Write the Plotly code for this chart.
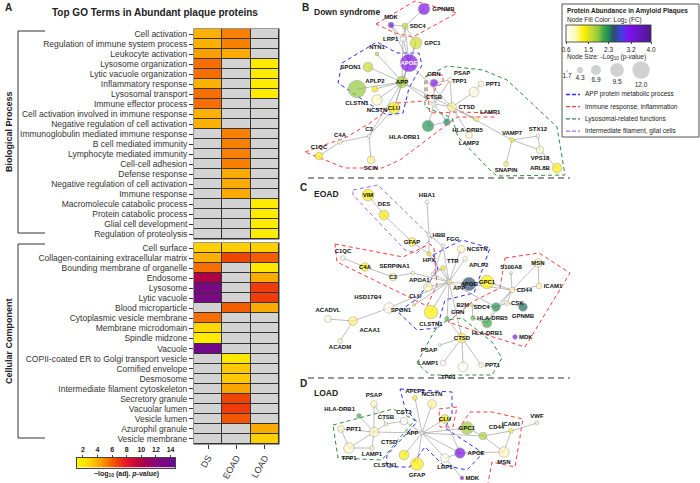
import numpy as np
import plotly.graph_objects as go

W, H = 700, 483
FONT = "Liberation Sans, Arial, sans-serif"
DARK = "#222222"
CELL_GRAY = "#D3D3D3"
EDGE = "#A0A0A0"
HULL = {"app": "#2F2FFF", "imm": "#FF3C3C", "lys": "#2E8B3A", "glia": "#9B6FD8"}

# ---------------------------------------------------------------- panel A data
GROUPS = ["DS", "EOAD", "LOAD"]

BP_TERMS = [
    "Cell activation", "Regulation of immune system process", "Leukocyte activation",
    "Lysosome organization", "Lytic vacuole organization", "Inflammatory response",
    "Lysosomal transport", "Immune effector process",
    "Cell activation involved in immune response", "Negative regulation of cell activation",
    "Immunoglobulin mediated immune response", "B cell mediated immunity",
    "Lymphocyte mediated immunity", "Cell-cell adhesion", "Defense response",
    "Negative regulation of cell activation", "Immune response",
    "Macromolecule catabolic process", "Protein catabolic process",
    "Glial cell development", "Regulation of proteolysis",
]
BP_DS = [4.0, 4.0, 4.5, 5.6, 5.6, 4.0, 5.6, 5.6, 4.0, 4.0,
         None, None, None, None, None, None, None, None, None, None, None]
BP_EOAD = [5.2, 5.2, 4.2, None, None, None, None, None, None, None,
           5.2, 5.2, 5.2, 5.2, 4.2, 4.2, 4.2, None, None, None, None]
BP_LOAD = [None, None, None, 1.8, 1.8, 1.8, 1.8, None, None, None,
           None, None, None, None, None, None, None, 1.8, 1.8, 1.8, 1.8]

CC_TERMS = [
    "Cell surface", "Collagen-containing extracellular matrix", "Bounding membrane of organelle",
    "Endosome", "Lysosome", "Lytic vacuole", "Blood microparticle",
    "Cytoplasmic vesicle membrane", "Membrane microdomain", "Spindle midzone", "Vacuole",
    "COPII-coated ER to Golgi transport vesicle", "Cornified envelope", "Desmosome",
    "Intermediate filament cytoskeleton", "Secretory granule", "Vacuolar lumen",
    "Vesicle lumen", "Azurophil granule", "Vesicle membrane",
]
CC_DS = [3.0, 4.0, 5.6, 10.0, 13.0, 13.0, None, 5.6, 2.8, 1.9, 13.8,
         None, None, None, None, None, None, None, None, None]
CC_EOAD = [3.0, 6.6, None, None, None, None, 6.0, None, None, None, None,
           2.0, 3.2, 3.2, 4.3, 6.6, 6.9, 6.2, None, None]
CC_LOAD = [3.0, 6.0, 2.0, 4.2, 6.9, 6.9, 4.2, None, None, None, None,
           None, None, None, None, None, None, None, 4.2, 3.0]

HEAT_MIN, HEAT_MAX = 1.2, 14.6
HEAT_TICKS = [2, 4, 6, 8, 10, 12, 14]
HEAT_SCALE = [
    [0.0, "#FFF500"], [0.097, "#FFE000"], [0.172, "#FFC000"], [0.246, "#F9A000"],
    [0.321, "#F57200"], [0.396, "#F04A00"], [0.507, "#E8142A"], [0.657, "#B00045"],
    [0.806, "#85087A"], [1.0, "#650A8E"],
]

# ---------------------------------------------------------------- network data
# node values: log2 fold change and -log10 p-value
B_GENES = ["GPNMB", "MDK", "SDC4", "LRP1", "GPC1", "NTN1", "APOE", "SPON1", "APP", "APLP2",
           "CLSTN1", "NCSTN", "CLU", "GRN", "PSAP", "PPT1", "TPP1", "CTSB", "CTSD", "LAMP1",
           "HLA-DRB1", "HLA-DRB5", "LAMP2", "C3", "C4A", "C1QC", "SCIN", "VAMP7", "STX12",
           "VPS18", "SNAPIN", "ARL8B"]
B_LFC = [3.2, 3.3, 1.6, 0.7, 1.55, 1.65, 3.1, 1.6, 1.8, 1.3,
         1.85, 0.9, 1.35, 3.1, 0.65, 0.85, 0.8, 0.65, 1.05, 1.15,
         2.25, 2.3, 0.9, 0.65, 1.0, 1.3, 1.1, 1.25, 0.65,
         0.9, 1.15, 1.35]
B_NLP = [8.0, 4.0, 4.0, 4.0, 8.0, 2.7, 12.0, 6.7, 8.0, 4.0,
         12.0, 7.3, 8.0, 5.3, 3.3, 4.0, 6.7, 3.3, 6.0, 3.3,
         8.0, 4.7, 4.7, 2.7, 3.3, 5.3, 5.3, 3.3, 2.7,
         5.3, 3.3, 6.7]
B_EDGES = [
    ("GPNMB", "SDC4"), ("MDK", "SDC4"), ("MDK", "LRP1"), ("MDK", "APOE"), ("SDC4", "LRP1"),
    ("SDC4", "GPC1"), ("SDC4", "APOE"), ("LRP1", "APOE"), ("LRP1", "APP"), ("GPC1", "APOE"),
    ("GPC1", "APP"), ("NTN1", "APP"), ("APOE", "APP"), ("SPON1", "APP"), ("APLP2", "APP"),
    ("CLSTN1", "APP"), ("NCSTN", "APP"), ("CLU", "APP"), ("APOE", "CLU"), ("CLU", "C3"),
    ("APP", "C3"), ("APP", "CTSB"), ("APP", "CTSD"), ("APOE", "CTSD"), ("GRN", "PSAP"),
    ("GRN", "CTSB"), ("PSAP", "CTSD"), ("PSAP", "CTSB"), ("CTSB", "CTSD"), ("CTSD", "TPP1"),
    ("TPP1", "PPT1"), ("CTSD", "LAMP1"), ("CTSB", "HLA-DRB1"), ("CTSB", "HLA-DRB5"),
    ("CTSD", "HLA-DRB5"), ("HLA-DRB1", "HLA-DRB5"), ("CTSD", "LAMP2"), ("CTSD", "VAMP7"),
    ("VAMP7", "STX12"), ("VAMP7", "VPS18"), ("STX12", "VPS18"), ("VPS18", "ARL8B"),
    ("VAMP7", "SNAPIN"), ("C3", "C4A"), ("C4A", "C1QC"), ("C3", "SCIN"),
]

C_GENES = ["VIM", "DES", "GFAP", "HBA1", "HBB", "FGG", "HPX", "NCSTN", "APLP2", "TTR",
           "SERPINA1", "C1QC", "C4A", "C3", "APOA1", "CLU", "APP", "APOE", "GPC1", "HSD17B4",
           "SPON1", "CLSTN1", "ACADVL", "ACAA1", "ACADM", "MSN", "S100A8", "ICAM1", "CD44",
           "CSK", "GPNMB", "SDC4", "B2M", "GRN", "HLA-DRB5", "HLA-DRB1", "MDK", "CTSD",
           "PSAP", "LAMP1", "TPP1", "PPT1"]
C_LFC = [1.3, 1.35, 1.2, 0.65, 0.65, 0.65, 1.3, 0.9, 0.7, 1.3,
         0.9, 0.7, 1.25, 0.95, 0.7, 0.95, 1.05, 2.5, 1.3, 0.7,
         1.3, 1.3, 0.7, 1.1, 0.9, 0.95, 0.9, 0.95, 0.9,
         0.9, 2.4, 2.25, 1.25, 2.0, 2.0, 2.1, 3.2, 1.15,
         0.65, 0.7, 0.65, 0.85]
C_NLP = [8.0, 6.7, 6.0, 2.7, 2.7, 2.7, 3.0, 5.3, 3.3, 3.3,
         2.7, 3.3, 6.0, 5.3, 2.7, 6.0, 3.3, 9.3, 9.3, 7.3,
         2.0, 9.3, 4.7, 6.0, 3.3, 6.0, 2.0, 4.0, 4.0,
         3.3, 6.0, 6.0, 2.0, 3.3, 3.3, 6.7, 3.3, 6.7,
         2.0, 4.0, 6.7, 3.3]
C_EDGES = [
    ("VIM", "DES"), ("DES", "GFAP"), ("GFAP", "HPX"), ("HBA1", "HBB"), ("HBB", "HPX"),
    ("HBB", "FGG"), ("HPX", "APP"), ("FGG", "APP"), ("FGG", "APOA1"), ("NCSTN", "APP"),
    ("APLP2", "APP"), ("TTR", "APP"), ("TTR", "APOA1"), ("SERPINA1", "APP"), ("SERPINA1", "C3"),
    ("C3", "C4A"), ("C4A", "C1QC"), ("APOA1", "APP"), ("CLU", "APP"), ("CLU", "APOA1"),
    ("APOE", "APP"), ("GPC1", "APOE"), ("SPON1", "APP"), ("CLSTN1", "APP"), ("HSD17B4", "APP"),
    ("HSD17B4", "ACAA1"), ("ACAA1", "ACADVL"), ("ACAA1", "ACADM"), ("APOE", "CD44"),
    ("GPC1", "CD44"), ("CD44", "MSN"), ("CD44", "ICAM1"), ("MSN", "ICAM1"), ("CD44", "S100A8"),
    ("CD44", "CSK"), ("CSK", "GPNMB"), ("CSK", "SDC4"), ("CD44", "SDC4"), ("B2M", "SDC4"),
    ("APP", "SDC4"), ("SDC4", "HLA-DRB1"), ("HLA-DRB1", "HLA-DRB5"), ("B2M", "HLA-DRB5"),
    ("CD44", "HLA-DRB1"), ("GRN", "CTSD"), ("APP", "GRN"), ("APP", "CTSD"), ("CTSD", "PSAP"),
    ("CTSD", "LAMP1"), ("CTSD", "TPP1"), ("CTSD", "PPT1"),
]

D_GENES = ["APLP2", "NCSTN", "PSAP", "HLA-DRB1", "CST3", "CTSB", "CLU", "GPC1", "CD44", "ICAM1",
           "VWF", "MSN", "PPT1", "CTSD", "APP", "LAMP1", "TPP1", "CLSTN1", "GFAP", "APOE",
           "LRP1", "MDK"]
D_LFC = [1.25, 1.05, 0.9, 2.1, 0.65, 0.9, 1.3, 1.8, 1.7, 1.2,
         1.0, 0.95, 0.9, 0.95, 0.65, 0.95, 0.9, 1.35, 1.3, 3.2,
         0.7, 3.2]
D_NLP = [3.3, 6.0, 4.7, 3.3, 5.3, 2.7, 6.0, 8.7, 5.3, 3.3,
         2.7, 7.3, 4.7, 6.7, 2.7, 3.3, 7.3, 6.7, 8.7, 7.3,
         6.0, 2.7]
D_EDGES = [
    ("APP", "APLP2"), ("APP", "NCSTN"), ("APP", "CST3"), ("APP", "CLU"), ("APP", "GPC1"),
    ("APP", "APOE"), ("APP", "LRP1"), ("APP", "CLSTN1"), ("APP", "GFAP"), ("APP", "CTSD"),
    ("APP", "CD44"), ("CST3", "CTSB"), ("CTSB", "CTSD"), ("CTSD", "PSAP"), ("CTSD", "PPT1"),
    ("CTSD", "TPP1"), ("CTSD", "LAMP1"), ("CTSD", "HLA-DRB1"), ("PSAP", "CTSB"), ("PPT1", "TPP1"),
    ("CLU", "APOE"), ("APOE", "LRP1"), ("LRP1", "MDK"), ("GPC1", "CD44"), ("CD44", "ICAM1"),
    ("ICAM1", "VWF"), ("ICAM1", "MSN"), ("CD44", "MSN"), ("APOE", "MSN"), ("TPP1", "LAMP1"),
]

NODE_TICKS = [0.6, 1.5, 2.3, 3.2, 4.0]
NODE_SCALE = [
    [0.0, "#FFFFFF"], [0.118, "#FFF9B0"], [0.206, "#FFF000"], [0.294, "#C8DC30"],
    [0.382, "#8CC63F"], [0.441, "#3DA848"], [0.5, "#1E8C5A"], [0.559, "#2C4E6A"],
    [0.647, "#4040E0"], [0.735, "#8010F0"], [1.0, "#4B1A8C"],
]
SIZE_KEY = [1.7, 4.3, 6.9, 9.5, 12.0]

# ---------------------------------------------------------------- network layout (pixel positions, label side)
B_POS = {
    "GPNMB": (424, 9, "r"), "MDK": (391, 25, "t"), "SDC4": (405, 26, "r"), "LRP1": (403, 39, "l"),
    "GPC1": (416, 43, "r"), "NTN1": (377, 54, "t"), "APOE": (409, 63, "c"), "SPON1": (368, 67, "l"),
    "APP": (402, 82, "c"), "APLP2": (375, 89, "t"), "CLSTN1": (357, 89, "b"), "NCSTN": (377, 100, "b"),
    "CLU": (394, 108, "c"), "GRN": (434, 83, "t"), "PSAP": (450, 80, "tr"), "PPT1": (481, 84, "r"),
    "TPP1": (474, 92, "tl"), "CTSB": (434, 104, "t"), "CTSD": (452, 107, "r"), "LAMP1": (476, 119, "tr"),
    "HLA-DRB1": (428, 126, "bl"), "HLA-DRB5": (447, 122, "br"), "LAMP2": (469, 135, "b"),
    "C3": (369, 136, "t"), "C4A": (340, 142, "t"), "C1QC": (319, 156, "t"), "SCIN": (371, 160, "b"),
    "VAMP7": (512, 140, "t"), "STX12": (538, 136, "t"), "VPS18": (540, 150, "b"),
    "SNAPIN": (506, 164, "b"), "ARL8B": (557, 168, "l"),
}
C_POS = {
    "VIM": (368, 195, "c"), "DES": (384, 215, "t"), "GFAP": (412, 242, "c"), "HBA1": (427, 202, "t"),
    "HBB": (429, 235, "r"), "FGG": (443, 246, "tr"), "HPX": (429, 254, "b"), "NCSTN": (461, 249, "r"),
    "APLP2": (465, 259, "br"), "TTR": (443, 268, "tr"), "SERPINA1": (413, 273, "tl"),
    "C1QC": (343, 258, "t"), "C4A": (365, 267, "c"), "C3": (393, 277, "c"), "APOA1": (433, 274, "bl"),
    "CLU": (428, 287, "bl"), "APP": (449, 282, "br"), "APOE": (469, 284, "c"), "GPC1": (487, 282, "c"),
    "HSD17B4": (389, 308, "tl"), "SPON1": (414, 305, "bl"), "CLSTN1": (431, 312, "b"),
    "ACADVL": (328, 319, "t"), "ACAA1": (353, 321, "br"), "ACADM": (340, 341, "b"),
    "MSN": (538, 263, "c"), "S100A8": (511, 273, "t"), "ICAM1": (539, 286, "r"), "CD44": (512, 290, "r"),
    "CSK": (507, 303, "r"), "GPNMB": (523, 307, "b"), "SDC4": (496, 307, "l"), "B2M": (472, 305, "l"),
    "GRN": (447, 319, "tr"), "HLA-DRB5": (473, 318, "r"), "HLA-DRB1": (487, 323, "b"),
    "MDK": (515, 337, "r"), "CTSD": (462, 338, "c"), "PSAP": (440, 345, "bl"),
    "LAMP1": (443, 363, "l"), "TPP1": (463, 367, "bl"), "PPT1": (481, 365, "r"),
}
D_POS = {
    "APLP2": (415, 398, "t"), "NCSTN": (432, 404, "t"), "PSAP": (374, 404, "t"),
    "HLA-DRB1": (359, 416, "tl"), "CST3": (404, 421, "t"), "CTSB": (386, 424, "t"),
    "CLU": (445, 419, "c"), "GPC1": (467, 428, "c"), "CD44": (483, 436, "tr"), "ICAM1": (511, 431, "t"),
    "VWF": (537, 423, "t"), "MSN": (504, 452, "b"), "PPT1": (341, 429, "r"), "CTSD": (374, 432, "br"),
    "APP": (422, 433, "l"), "LAMP1": (372, 448, "b"), "TPP1": (349, 448, "b"),
    "CLSTN1": (404, 455, "bl"), "GFAP": (417, 464, "b"), "APOE": (460, 453, "r"),
    "LRP1": (445, 458, "b"), "MDK": (462, 478, "r"),
}

B_HULLS = [
    ("imm", [(376, 24), (415, 1), (457, 13), (413, 37), (395, 33)], True),
    ("app", [(342, 63), (377, 42), (397, 53), (419, 53), (422, 65), (409, 88), (403, 113),
             (387, 115), (363, 100), (338, 83)], True),
    ("imm", [(305, 152), (347, 137), (370, 123), (397, 103), (425, 101), (433, 95), (436, 87),
             (443, 83), (443, 75), (427, 75), (427, 90), (430, 113), (457, 112), (497, 113),
             (495, 117), (457, 117), (400, 160), (382, 168), (345, 168)], True),
    ("lys", [(425, 77), (447, 66), (483, 70), (507, 80), (557, 127), (562, 160), (565, 175),
             (497, 176), (490, 170), (458, 137), (452, 118), (425, 107)], True),
]
C_HULLS = [
    ("glia", [(353, 190), (378, 185), (432, 238), (417, 253), (405, 250), (353, 195)], True),
    ("imm", [(335, 244), (403, 257), (430, 244), (434, 248), (437, 285), (427, 306), (337, 262)], True),
    ("app", [(433, 255), (462, 240), (490, 248), (474, 293), (445, 300), (437, 328), (417, 330),
             (398, 312), (418, 298), (438, 270)], True),
    ("imm", [(505, 258), (539, 253), (570, 273), (525, 347), (490, 336), (448, 322), (472, 302),
             (500, 288)], True),
    ("lys", [(417, 363), (435, 330), (447, 320), (462, 318), (492, 342), (502, 358), (492, 375),
             (430, 375)], True),
]
D_HULLS = [
    ("lys", [(333, 425), (393, 409), (415, 420), (398, 440), (382, 460), (338, 458)], True),
    ("app", [(400, 389), (452, 392), (452, 415), (445, 428), (483, 453), (467, 470), (443, 465),
             (425, 447), (410, 467), (386, 467), (387, 455), (417, 422), (405, 408)], True),
    ("imm", [(439, 409), (457, 407), (453, 427), (440, 427)], True),
    ("imm", [(458, 430), (470, 412), (492, 412), (523, 419), (515, 467), (492, 462), (488, 483)], False),
]

TEXTPOS = {"t": "top center", "b": "bottom center", "l": "middle left", "r": "middle right",
           "c": "middle center", "tl": "top left", "tr": "top right", "bl": "bottom left",
           "br": "bottom right"}
SIZEREF = 1 / 1.45


def fx(x):
    return x / W


def fy(y):
    return 1 - y / H


# ---------------------------------------------------------------- heatmap
def heat_traces(ds, eoad, load, xa, ya):
    z = np.array([ds, eoad, load], dtype=float).T
    rows = list(range(z.shape[0]))
    base = go.Heatmap(
        z=np.ones_like(z), x=[0, 1, 2], y=rows, xaxis=xa, yaxis=ya,
        colorscale=[[0, CELL_GRAY], [1, CELL_GRAY]], showscale=False,
        xgap=1, ygap=1, hoverinfo="skip",
    )
    vals = go.Heatmap(
        z=z, x=[0, 1, 2], y=rows, xaxis=xa, yaxis=ya, coloraxis="coloraxis",
        xgap=1, ygap=1, hovertemplate="%{z:.1f}<extra></extra>",
    )
    return [base, vals]


# ---------------------------------------------------------------- networks
def network_traces(genes, lfc, nlp, pos, edges, hulls):
    traces = []
    for key, pts, closed in hulls:
        pts = pts + [pts[0]] if closed else pts
        traces.append(go.Scatter(
            x=[p[0] for p in pts], y=[p[1] for p in pts], mode="lines",
            line=dict(color=HULL[key], width=1, dash="4px,3px"),
            xaxis="x3", yaxis="y3", hoverinfo="skip", showlegend=False,
        ))
    ex, ey = [], []
    for a, b in edges:
        ex += [pos[a][0], pos[b][0], None]
        ey += [pos[a][1], pos[b][1], None]
    traces.append(go.Scatter(
        x=ex, y=ey, mode="lines", line=dict(color=EDGE, width=0.7),
        xaxis="x3", yaxis="y3", hoverinfo="skip", showlegend=False,
    ))
    txt_col = ["#FFFFFF" if (pos[g][2] == "c" and v > 2.9) else "#111111"
               for g, v in zip(genes, lfc)]
    traces.append(go.Scatter(
        x=[pos[g][0] for g in genes], y=[pos[g][1] for g in genes],
        mode="markers+text",
        marker=dict(size=nlp, sizeref=SIZEREF, color=lfc, coloraxis="coloraxis2",
                    line=dict(color="#8A8A8A", width=0.6)),
        text=[f"<b>{g}</b>" for g in genes],
        textposition=[TEXTPOS[pos[g][2]] for g in genes],
        textfont=dict(size=6, color=txt_col, family=FONT),
        xaxis="x3", yaxis="y3", showlegend=False,
        hovertemplate="%{text}<extra></extra>",
    ))
    return traces


fig = go.Figure()
for t in heat_traces(BP_DS, BP_EOAD, BP_LOAD, "x", "y"):
    fig.add_trace(t)
for t in heat_traces(CC_DS, CC_EOAD, CC_LOAD, "x2", "y2"):
    fig.add_trace(t)

# colour key for the heatmap: a one-row ramp drawn on its own axis (ticks on top)
ramp = np.linspace(HEAT_MIN, HEAT_MAX, 134)
fig.add_trace(go.Heatmap(
    z=[ramp], x=ramp, y=[0], xaxis="x4", yaxis="y4", coloraxis="coloraxis",
    hoverinfo="skip",
))

# size key in the legend box
fig.add_trace(go.Scatter(
    x=[567, 580, 596, 617, 641], y=[71, 70, 70, 70, 70], mode="markers+text",
    marker=dict(size=SIZE_KEY, sizeref=SIZEREF, color="#BDBDBD", line=dict(width=0)),
    text=[f"{v:.1f}" for v in SIZE_KEY], textposition="bottom center",
    textfont=dict(size=6.5, color=DARK), xaxis="x3", yaxis="y3", showlegend=False, hoverinfo="skip",
))

for args in [(B_GENES, B_LFC, B_NLP, B_POS, B_EDGES, B_HULLS),
             (C_GENES, C_LFC, C_NLP, C_POS, C_EDGES, C_HULLS),
             (D_GENES, D_LFC, D_NLP, D_POS, D_EDGES, D_HULLS)]:
    for t in network_traces(*args):
        fig.add_trace(t)

XDOM = [fx(194), fx(279)]
tickfont = dict(size=8.5, color="#333333", family=FONT)
fig.update_layout(
    width=W, height=H, margin=dict(l=0, r=0, t=0, b=0),
    paper_bgcolor="#FFFFFF", plot_bgcolor="rgba(0,0,0,0)",
    font=dict(family=FONT, color=DARK),
    xaxis=dict(domain=XDOM, anchor="y", range=[-0.5, 2.5], showticklabels=False,
               ticks="", showgrid=False, zeroline=False, fixedrange=True),
    yaxis=dict(domain=[fy(239), fy(29)], anchor="x", range=[len(BP_TERMS) - 0.5, -0.5],
               tickvals=list(range(len(BP_TERMS))), ticktext=BP_TERMS, ticks="outside",
               ticklen=4, tickcolor="#333", tickfont=tickfont, showgrid=False, zeroline=False),
    xaxis2=dict(domain=XDOM, anchor="y2", range=[-0.5, 2.5], tickvals=[0, 1, 2],
                ticktext=GROUPS, tickangle=-60, ticks="outside", ticklen=4, tickcolor="#333",
                tickfont=dict(size=9, color="#333", family=FONT), showgrid=False, zeroline=False),
    yaxis2=dict(domain=[fy(444), fy(243)], anchor="x2", range=[len(CC_TERMS) - 0.5, -0.5],
                tickvals=list(range(len(CC_TERMS))), ticktext=CC_TERMS, ticks="outside",
                ticklen=4, tickcolor="#333", tickfont=tickfont, showgrid=False, zeroline=False),
    xaxis3=dict(domain=[0, 1], anchor="y3", range=[0, W], visible=False, fixedrange=True),
    yaxis3=dict(domain=[0, 1], anchor="x3", range=[H, 0], visible=False, fixedrange=True),
    xaxis4=dict(domain=[fx(77), fx(175)], anchor="y4", side="top", range=[HEAT_MIN, HEAT_MAX],
                tickvals=HEAT_TICKS, ticks="outside", ticklen=2, tickcolor="#444",
                tickfont=dict(size=7, family=FONT, weight="bold", color=DARK),
                showline=True, mirror=True, linecolor="#444", linewidth=0.8,
                showgrid=False, zeroline=False, fixedrange=True),
    yaxis4=dict(domain=[fy(467.5), fy(457.5)], anchor="x4", range=[-0.5, 0.5],
                showticklabels=False, ticks="", showline=True, mirror=True, linecolor="#444",
                linewidth=0.8, showgrid=False, zeroline=False, fixedrange=True),
    coloraxis=dict(colorscale=HEAT_SCALE, cmin=HEAT_MIN, cmax=HEAT_MAX, showscale=False),
    coloraxis2=dict(
        colorscale=NODE_SCALE, cmin=0.6, cmax=4.0,
        colorbar=dict(
            orientation="h", x=fx(608.5), xanchor="center", y=fy(25), yanchor="top",
            xpad=0, ypad=0, len=85, lenmode="pixels", thickness=17, tickvals=NODE_TICKS,
            ticktext=[f"{v:.1f}" for v in NODE_TICKS], ticks="outside", ticklen=2,
            tickfont=dict(size=6.5, family=FONT), outlinewidth=0.8, outlinecolor="#333",
        ),
    ),
)

shapes = []
# dark grid behind heatmap cells
for y0, y1 in [(29, 239), (243, 444)]:
    shapes.append(dict(type="rect", xref="paper", yref="paper", x0=fx(193.5), x1=fx(279.5),
                       y0=fy(y1 + 0.5), y1=fy(y0 - 0.5), fillcolor="#333333",
                       line=dict(width=0), layer="below"))
# category brackets
for y0, y1 in [(31, 233), (244, 438)]:
    shapes.append(dict(type="path", xref="paper", yref="paper",
                       path=f"M {fx(45)} {fy(y0)} L {fx(18)} {fy(y0)} L {fx(18)} {fy(y1)} L {fx(45)} {fy(y1)}",
                       line=dict(color="#333", width=1)))
# panel separators
for y in [178, 378]:
    shapes.append(dict(type="line", xref="paper", yref="paper", x0=fx(308), x1=fx(570),
                       y0=fy(y), y1=fy(y), line=dict(color="#333", width=1, dash="6px,4px")))
# legend box
shapes.append(dict(type="rect", xref="paper", yref="paper", x0=fx(562), x1=fx(699),
                   y0=fy(137), y1=fy(4), line=dict(color="#555", width=1),
                   fillcolor="rgba(0,0,0,0)"))
LEGEND_ROWS = [("app", "APP protein metabolic process"),
               ("imm", "Immune response, inflammation"),
               ("lys", "Lysosomal-related functions"),
               ("glia", "Intermediate filament, glial cells")]
for i, (key, label) in enumerate(LEGEND_ROWS):
    y = 94.5 + 12.2 * i
    shapes.append(dict(type="line", xref="paper", yref="paper", x0=fx(566), x1=fx(580),
                       y0=fy(y), y1=fy(y), line=dict(color=HULL[key], width=1.3, dash="4px,2px")))

fig.update_layout(shapes=shapes)


def ann(x, y, text, size=7, xanchor="left", yanchor="middle", angle=0, color=DARK):
    fig.add_annotation(x=fx(x), y=fy(y), xref="paper", yref="paper", text=text, showarrow=False,
                       xanchor=xanchor, yanchor=yanchor, textangle=angle,
                       font=dict(size=size, color=color, family=FONT))


ann(3, 8, "<b>A</b>", 10)
ann(155, 13, "<b>Top GO Terms in Abundant plaque proteins</b>", 10, xanchor="center")
ann(9, 132, "<b>Biological Process</b>", 9, xanchor="center", angle=-90)
ann(9, 341, "<b>Cellular Component</b>", 9, xanchor="center", angle=-90)
ann(126, 474, "<b>−log<sub>10</sub> (adj. <i>p</i>-value)</b>", 7, xanchor="center")
ann(300, 8, "<b>B</b>", 10)
ann(312, 12, "<b>Down syndrome</b>", 8.5)
ann(298, 187, "<b>C</b>", 10)
ann(312, 194, "<b>EOAD</b>", 8.5)
ann(298, 383, "<b>D</b>", 10)
ann(312, 393, "<b>LOAD</b>", 8.5)
ann(565, 11, "<b>Protein Abundance in Amyloid Plaques</b>", 6.5)
ann(565, 20, "Node Fill Color: Log<sub>2</sub> (FC)", 6.5)
ann(565, 57, "Node Size: -Log<sub>10</sub> (p-value)", 6.5)
for i, (key, label) in enumerate(LEGEND_ROWS):
    ann(583, 94.5 + 12.2 * i, label, 6.5)

# the page body has a default margin; drop it so the figure sits at the window origin
fig.write_html("out.html", config={"displayModeBar": False},
               post_script="document.body.style.margin='0px';")
